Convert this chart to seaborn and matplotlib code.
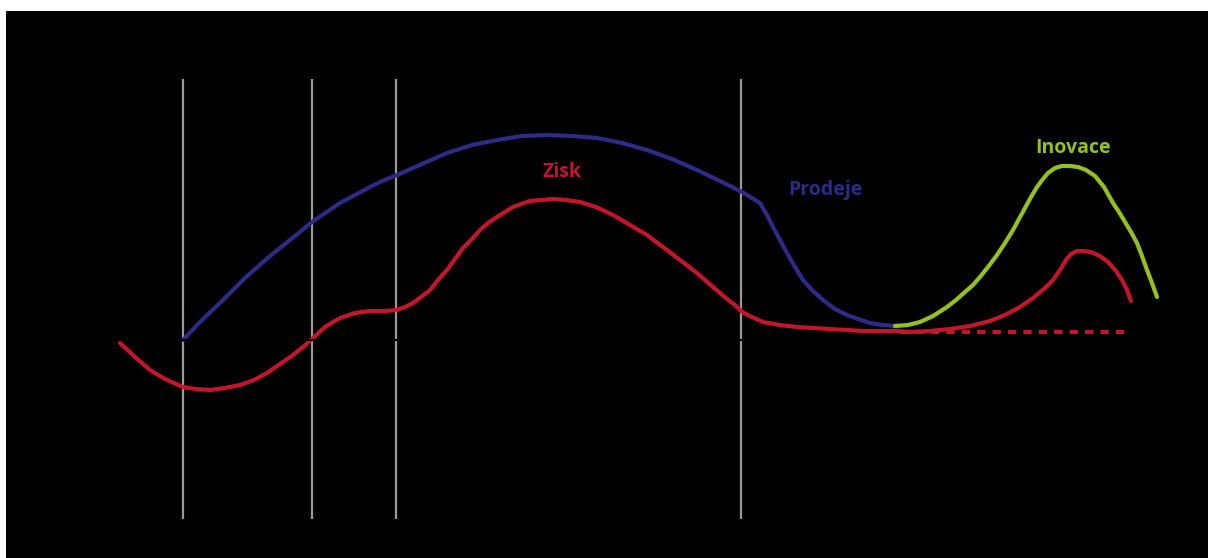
import numpy as np
import pandas as pd
import matplotlib
matplotlib.use('Agg')
import matplotlib.pyplot as plt
import seaborn as sns

##################################################################
# values (x along the time line, y above/below zero)
zisk_x = [120, 135, 150, 165, 183, 196, 210, 225, 240, 254, 267, 280, 293, 303, 313, 325, 340,
          355, 370, 385, 397, 405, 413, 421, 430, 438, 447, 455, 463, 472, 480, 488, 497, 505,
          513, 521, 530, 542, 553, 566, 580, 596, 613, 630, 647, 663, 680, 697, 713, 727, 735,
          742, 752, 763, 780, 797, 813, 830, 847, 863, 880, 895, 910, 930, 950, 970, 990, 1005,
          1020, 1033, 1045, 1053, 1060, 1066, 1071, 1077, 1083, 1091, 1100, 1108, 1116, 1122,
          1127, 1131]
zisk_y = [-3, -17, -30, -39, -47, -49, -50, -48, -45, -40, -33, -24, -15, -7, 2, 13, 22,
          27, 29, 29, 30, 33, 37, 43, 50, 60, 70, 81, 92, 101, 110, 117, 123, 128,
          133, 136, 139, 140, 141, 140, 138, 133, 125, 115, 105, 93, 80, 67, 53, 41, 35,
          28, 23, 18, 15, 13, 12, 11, 10, 9, 9, 9, 8, 9, 11, 14, 19, 25,
          33, 42, 52, 60, 70, 80, 86, 89, 89, 88, 84, 78, 69, 60,
          50, 39]

prodeje_x = [183, 200, 223, 245, 270, 295, 312, 340, 370, 380, 397, 422, 447, 472, 497, 522,
             547, 572, 597, 622, 647, 672, 697, 720, 742, 752, 760, 767, 773, 780, 787, 795,
             803, 813, 823, 835, 847, 858, 870, 883, 895]
prodeje_y = [0, 18, 40, 62, 84, 104, 118, 137, 153, 158, 165, 176, 187, 195, 200, 204,
             205, 204, 202, 197, 190, 181, 170, 159, 148, 142, 137, 125, 113, 100, 87, 73,
             60, 49, 40, 31, 25, 21, 17, 15, 14]

inovace_x = [895, 908, 920, 933, 947, 956, 965, 973, 980, 988, 997, 1005, 1013, 1019, 1025,
             1031, 1037, 1043, 1048, 1055, 1062, 1070, 1078, 1086, 1095, 1104, 1113, 1119,
             1125, 1131, 1137, 1142, 1147, 1152, 1157]
inovace_y = [14, 15, 18, 24, 33, 40, 48, 55, 63, 73, 85, 97, 110, 121, 132,
             143, 153, 161, 167, 172, 174, 174, 173, 170, 164, 153, 137, 128,
             118, 108, 97, 84, 70, 57, 43]

nula_x = [900, 1127]
nula_y = [8, 8]

faze_x = [183, 312, 396, 741]

labels = ['Zisk', 'Prodeje', 'Inovace']
label_x = [562, 825, 1073]
label_y = [168, 150, 192]

colors = {'Zisk': '#c4162a', 'Prodeje': '#2e2a86', 'Inovace': '#95c11f'}
##################################################################

df = pd.concat([
    pd.DataFrame({'x': zisk_x, 'y': zisk_y, 'serie': 'Zisk'}),
    pd.DataFrame({'x': prodeje_x, 'y': prodeje_y, 'serie': 'Prodeje'}),
    pd.DataFrame({'x': inovace_x, 'y': inovace_y, 'serie': 'Inovace'}),
], ignore_index=True)
df_nula = pd.DataFrame({'x': nula_x, 'y': nula_y})

sns.set_style('dark', {'axes.facecolor': 'black'})
plt.rcParams['font.family'] = ['Open Sans', 'DejaVu Sans']

fig = plt.figure(figsize=[12.08, 5.58], dpi=100, facecolor='white')
ax = fig.add_axes([6 / 1208, 0, 1202 / 1208, 547 / 558])
ax.set_facecolor('black')

# phase separators
ax.vlines(faze_x, -179, 261, color='#9a9a9a', lw=1.6, zorder=1)

sns.lineplot(data=df, x='x', y='y', hue='serie', palette=colors, sort=False,
             estimator=None, lw=3, legend=False, ax=ax, zorder=3,
             solid_joinstyle='round')
sns.lineplot(data=df_nula, x='x', y='y', color=colors['Zisk'], lw=3, ax=ax, zorder=2,
             dashes=False, linestyle=(0, (2.0, 1.7)))
ax.get_lines()[-1].set_dash_capstyle('butt')

# zero line (black, drawn over everything)
ax.axhline(0, color='black', lw=1.5, zorder=5)

for lab, lx, ly in zip(labels, label_x, label_y):
    ax.text(lx, ly, lab, color=colors[lab], fontsize=14, fontweight='bold',
            ha='center', va='center', zorder=6)

ax.set_xlim(6, 1208)
ax.set_ylim(-218, 329)
ax.set_xticks([])
ax.set_yticks([])
ax.set_xlabel('')
ax.set_ylabel('')
for s in ax.spines.values():
    s.set_visible(False)

plt.savefig('out.png', dpi=100, facecolor='white')
